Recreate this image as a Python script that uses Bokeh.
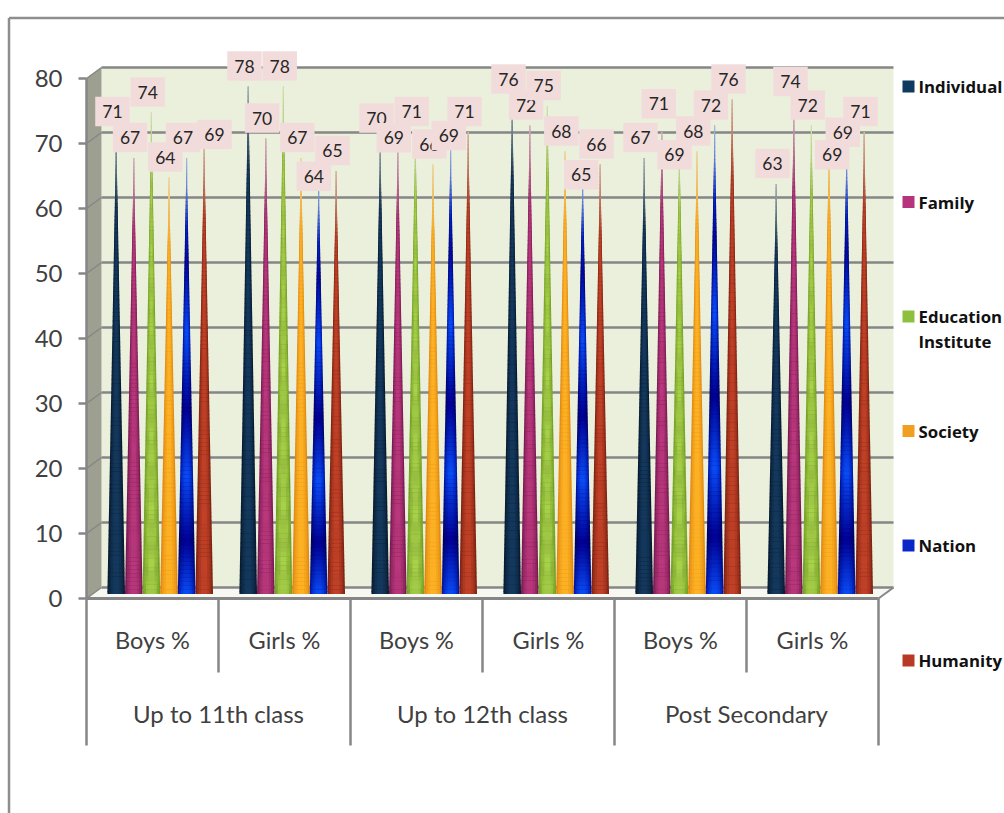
import numpy as np
from bokeh.embed import file_html
from bokeh.models import FixedTicker, LinearAxis, Range1d
from bokeh.plotting import figure
from bokeh.core.properties import value as fixed
from bokeh.resources import INLINE

# ---- chart values -------------------------------------------------------
CLASS_LEVELS = ["Up to 11th class", "Up to 12th class", "Post Secondary"]
GENDERS = ["Boys %", "Girls %"]
SERIES = ["Individual", "Family", "Education Institute", "Society", "Nation", "Humanity"]

INDIVIDUAL = [71, 78, 70, 76, 67, 63]
FAMILY = [67, 70, 69, 72, 71, 74]
EDUCATION = [74, 78, 71, 75, 69, 72]
SOCIETY = [64, 67, 66, 68, 68, 69]
NATION = [67, 64, 69, 65, 72, 69]
HUMANITY = [69, 65, 71, 66, 76, 71]
VALUES = [INDIVIDUAL, FAMILY, EDUCATION, SOCIETY, NATION, HUMANITY]

Y_TICKS = [0, 10, 20, 30, 40, 50, 60, 70, 80]

# ---- drawing scales: one group is 132 px wide, one percent is 6.5 px tall --
W, H = 1004, 813
GROUP_PX = 132.0
UNIT_PX = 6.5
ORIGIN_X = 152.0   # centre of the first group
ORIGIN_Y = 598.0   # zero on the front edge of the floor


def gx(px):
    return (px - ORIGIN_X) / GROUP_PX


def gy(px):
    return (ORIGIN_Y - px) / UNIT_PX


DEPTH_X = 15.0 / GROUP_PX
DEPTH_Y = 11.0 / UNIT_PX
CONE_BASE = 5.0 / UNIT_PX
CONE_STEP = 17.6 / GROUP_PX
CONE_WIDTH_PX = 17.6
HAIRLINE_PX = 0.6
FIRST_CONE = (115.7 - ORIGIN_X) / GROUP_PX
WALL_COLOR = "#EBF0DD"
WALL_RGB = np.array([235.0, 240.0, 221.0])

# Data label placement relative to the cone tip, in pixels (dx, lift).
LABEL_DEFAULT = (-3.7, 20.5)
LABEL_MOVED = {
    (5, 0): (10.3, 10.5), (4, 1): (-4.8, 1.3), (1, 2): (-4.0, 7.2),
    (4, 2): (-1.8, 9.5), (4, 3): (-1.4, -3.8), (1, 4): (-3.0, 28.2),
    (2, 4): (-4.9, -9.8), (1, 5): (-3.3, 31.0), (3, 5): (3.2, -9.8),
    (4, 5): (-3.8, 12.8),
}

# Cone surface colours: (centre, edge)
CONE_COLORS = [
    ((20, 56, 92), (8, 28, 50)),
    ((182, 54, 122), (122, 28, 84)),
    ((160, 200, 70), (118, 162, 38)),
    ((252, 176, 36), (226, 138, 16)),
    ((10, 76, 244), (0, 24, 176)),
    ((190, 64, 38), (128, 36, 20)),
]
NATION_DARK = ((0, 0, 150), (0, 0, 96))
TEXTURE = [0.02, 0.025, 0.055, 0.0, 0.0, 0.02]
NATION_T = [0.0, 0.12, 0.27, 0.42, 0.60, 0.76, 0.95, 1.0]
NATION_BRIGHT = [1.0, 0.0, 1.0, 0.0, 1.0, 0.1, 1.0, 1.0]
LEGEND_COLORS = ["#0F3A5F", "#B5347C", "#8FBF3F", "#F0A01E", "#0A28C8", "#B83A24"]

# A cone is stacked from thin rings; each ring nests lighter facets across its width.
CONE_ROWS = 110
FACETS = [1.0, 0.82, 0.62, 0.36]
FACET_MIX = [1.0, 0.55, 0.25, 0.0]


def cone_facets(series, centre, height):
    """Polygons (xs, ys, colours) that shade one cone with the chart's own units."""
    xs, ys, colors = [], [], []
    c_mid, c_rim = (np.array(c, float) for c in CONE_COLORS[series])
    d_mid, d_rim = (np.array(c, float) for c in NATION_DARK)
    half_w = CONE_WIDTH_PX / GROUP_PX / 2
    hair = HAIRLINE_PX / GROUP_PX
    overlap = 0.5 / UNIT_PX
    for r in range(CONE_ROWS - 1, -1, -1):
        t0, t1 = r / CONE_ROWS, (r + 1) / CONE_ROWS
        tm = (t0 + t1) / 2
        y0 = CONE_BASE + t0 * height - overlap
        y1 = CONE_BASE + t1 * height
        w0, w1 = max(half_w * (1 - t0), hair), max(half_w * (1 - t1), hair)
        for k, (frac, mix) in enumerate(zip(FACETS, FACET_MIX)):
            rgb = c_mid * (1 - mix) + c_rim * mix
            if series == 4:
                dark = d_mid * (1 - mix) + d_rim * mix
                b = float(np.interp(tm, NATION_T, NATION_BRIGHT))
                rgb = rgb * b + dark * (1 - b)
            if TEXTURE[series]:
                rgb = rgb * (1 + TEXTURE[series] * np.sin(r * 0.75 + k * 2.1) * np.sin(r * 0.31 - k * 1.3))
            # the upper part pales out towards the point
            keep = float(np.clip(0.30 + (1 - tm) / 0.16 * 0.70, 0, 1))
            rgb = rgb * keep + WALL_RGB * (1 - keep)
            a, b_ = w0 * frac, w1 * frac
            xs.append([centre - a, centre + a, centre + b_, centre - b_])
            ys.append([y0, y0, y1, y1])
            colors.append("#%02x%02x%02x" % tuple(int(v) for v in np.clip(rgb, 0, 255)))
    return xs, ys, colors


p = figure(
    width=W, height=H, output_backend="svg", toolbar_location=None,
    x_range=Range1d(gx(0), gx(W)), y_range=Range1d(gy(H), gy(0)),
    x_axis_location=None, y_axis_location=None,
    min_border=0, outline_line_color=None,
    background_fill_color="white", border_fill_color="white",
)
p.grid.visible = False

GRID = "#868686"
LEFT = -0.5
RIGHT = len(CLASS_LEVELS) * len(GENDERS) - 0.5

# Outer picture frame
p.segment(x0=[gx(8.5), gx(8.5)], y0=[gy(17.5), gy(17.5)], x1=[gx(W), gx(8.5)], y1=[gy(17.5), gy(H)],
          line_color="#8E8E8E", line_width=2.5)

# Chart box: back wall, side wall and floor
p.quad(left=[LEFT + DEPTH_X], right=[RIGHT + DEPTH_X], bottom=[DEPTH_Y], top=[80 + DEPTH_Y],
       fill_color=WALL_COLOR, line_color=None)
p.patch(x=[LEFT, LEFT + DEPTH_X, LEFT + DEPTH_X, LEFT], y=[0, DEPTH_Y, 80 + DEPTH_Y, 80],
        fill_color="#9DA091", line_color=None)
p.patch(x=[LEFT, LEFT + DEPTH_X, RIGHT + DEPTH_X, RIGHT], y=[0, DEPTH_Y, DEPTH_Y, 0],
        fill_color="#F7F8F2", line_color=None)

# Gridlines across the back wall, folding forward along the side wall
p.segment(x0=[LEFT + DEPTH_X] * len(Y_TICKS), x1=[RIGHT + DEPTH_X] * len(Y_TICKS),
          y0=[t + DEPTH_Y for t in Y_TICKS], y1=[t + DEPTH_Y for t in Y_TICKS],
          line_color=GRID, line_width=2.5)
p.segment(x0=[LEFT] * len(Y_TICKS), x1=[LEFT + DEPTH_X] * len(Y_TICKS),
          y0=Y_TICKS, y1=[t + DEPTH_Y for t in Y_TICKS], line_color=GRID, line_width=1.5)
p.segment(x0=[RIGHT], x1=[RIGHT + DEPTH_X], y0=[0], y1=[DEPTH_Y], line_color=GRID, line_width=2)

# Cones, each on a small rounded foot
for s, series_values in enumerate(VALUES):
    for g, v in enumerate(series_values):
        centre = g + FIRST_CONE + s * CONE_STEP
        rim = "#%02x%02x%02x" % CONE_COLORS[s][1]
        p.ellipse(x=[centre], y=[CONE_BASE + 2.0 / UNIT_PX], width=[CONE_WIDTH_PX / GROUP_PX],
                  height=[5.0 / UNIT_PX], fill_color=rim, line_color=None)
        xs, ys, colors = cone_facets(s, centre, v)
        p.patches(xs=xs, ys=ys, fill_color=colors, line_color=None)

# Category table under the floor
n_groups = len(CLASS_LEVELS) * len(GENDERS)
SUB_BOTTOM = gy(672)
TABLE_BOTTOM = gy(745)
p.segment(x0=[LEFT], x1=[RIGHT], y0=[0], y1=[0], line_color=GRID, line_width=3)
for i in range(n_groups + 1):
    bottom = TABLE_BOTTOM if i % 2 == 0 else SUB_BOTTOM
    p.segment(x0=[LEFT + i], x1=[LEFT + i], y0=[0], y1=[bottom], line_color=GRID, line_width=2.5)

cat_font = fixed("Lato")
p.text(x=list(range(n_groups)), y=[gy(639.5)] * n_groups,
       text=[GENDERS[i % 2] for i in range(n_groups)],
       text_align="center", text_baseline="middle", text_font=cat_font,
       text_font_size="23.5px", text_color="#404040")
p.text(x=[0.5 + 2 * i for i in range(len(CLASS_LEVELS))], y=[gy(713)] * len(CLASS_LEVELS),
       text=CLASS_LEVELS, text_align="center", text_baseline="middle", text_font=cat_font,
       text_font_size="24px", text_color="#404040")

# Data labels, painted cone by cone so that later boxes sit over earlier ones
for g in range(n_groups):
    for s, series_values in enumerate(VALUES):
        v = series_values[g]
        dx, lift = LABEL_MOVED.get((s, g), LABEL_DEFAULT)
        lx = g + FIRST_CONE + s * CONE_STEP + dx / GROUP_PX
        ly = CONE_BASE + v + lift / UNIT_PX
        p.rect(x=[lx], y=[ly], width=[34.5 / GROUP_PX], height=[29.5 / UNIT_PX],
               fill_color="#F2DCDB", line_color=None)
        p.text(x=[lx], y=[ly], text=[str(v)], text_align="center", text_baseline="middle",
               text_font=fixed("Lato"), text_font_size="17.5px", text_color="#262626")

# Value axis standing on the front corner of the box
axis = LinearAxis(
    fixed_location=LEFT, bounds=(0, 80), ticker=FixedTicker(ticks=Y_TICKS),
    major_tick_out=8, major_tick_in=0, minor_tick_out=0, minor_tick_in=0,
    major_tick_line_color=GRID, major_tick_line_width=2.5,
    axis_line_color=GRID, axis_line_width=2.5,
    major_label_text_font="Lato", major_label_text_font_size="24px",
    major_label_text_color="#404040", major_label_standoff=16,
)
p.add_layout(axis, "left")

# Legend down the right-hand side
LEGEND_ROWS = [gy(py) for py in (86, 201.5, 316, 430.5, 545, 660)]
LEGEND_SIZE = "16.8px"
p.scatter(x=[gx(908)] * 6, y=LEGEND_ROWS, marker="square", size=12,
          fill_color=LEGEND_COLORS, line_color=None)
for name, row in zip(SERIES, LEGEND_ROWS):
    if name == "Education Institute":
        first, second = name.split(" ")
        p.text(x=[gx(918)], y=[row], text=[first], text_baseline="middle", text_font=fixed("Open Sans"),
               text_font_style="bold", text_font_size=LEGEND_SIZE, text_color="#111111")
        p.text(x=[gx(918)], y=[gy(341)], text=[second], text_baseline="middle", text_font=fixed("Open Sans"),
               text_font_style="bold", text_font_size=LEGEND_SIZE, text_color="#111111")
    else:
        p.text(x=[gx(918)], y=[row], text=[name], text_baseline="middle", text_font=fixed("Open Sans"),
               text_font_style="bold", text_font_size=LEGEND_SIZE, text_color="#111111")

open("out.html", "w").write(file_html(p, INLINE))
